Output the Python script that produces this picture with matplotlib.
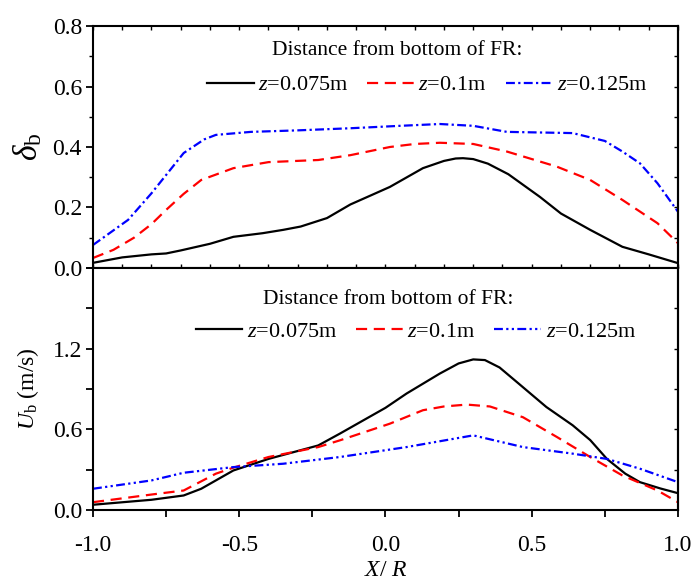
import numpy as np
import matplotlib.pyplot as plt
from matplotlib.ticker import MultipleLocator

plt.rcParams['font.family'] = ['Liberation Serif', 'DejaVu Serif']
plt.rcParams['mathtext.fontset'] = 'custom'
plt.rcParams['mathtext.rm'] = 'Liberation Serif'
plt.rcParams['mathtext.it'] = 'Liberation Serif:italic'

# delta_b (top panel)
x_d1 = [-1.0, -0.9, -0.8, -0.75, -0.7, -0.6, -0.52, -0.42, -0.35, -0.29, -0.2, -0.12, -0.05,
        0.015, 0.128, 0.2, 0.24, 0.265, 0.3, 0.35, 0.42, 0.528, 0.6, 0.7, 0.81, 0.9, 1.0]
d1 = [0.017, 0.035, 0.045, 0.048, 0.058, 0.08, 0.103, 0.115, 0.126, 0.137, 0.165, 0.21, 0.24,
      0.268, 0.33, 0.354, 0.362, 0.363, 0.36, 0.345, 0.31, 0.235, 0.18, 0.126, 0.07, 0.045, 0.016]
x_d2 = [-1.0, -0.93, -0.86, -0.8, -0.75, -0.69, -0.63, -0.52, -0.4, -0.23, -0.12, 0.015, 0.1,
        0.186, 0.3, 0.415, 0.586, 0.7, 0.81, 0.93, 1.0]
d2 = [0.033, 0.06, 0.1, 0.145, 0.192, 0.245, 0.291, 0.33, 0.35, 0.357, 0.373, 0.4, 0.41,
      0.414, 0.41, 0.385, 0.335, 0.291, 0.225, 0.148, 0.082]
x_d3 = [-1.0, -0.88, -0.8, -0.69, -0.62, -0.58, -0.46, -0.3, -0.12, 0.05, 0.186, 0.3, 0.415,
        0.64, 0.75, 0.81, 0.87, 0.93, 1.0]
d3 = [0.076, 0.159, 0.247, 0.38, 0.425, 0.44, 0.45, 0.455, 0.462, 0.47, 0.476, 0.47, 0.45,
      0.446, 0.42, 0.385, 0.346, 0.28, 0.186]

# U_b (bottom panel)
x_u1 = [-1.0, -0.8, -0.69, -0.63, -0.52, -0.4, -0.23, -0.156, 0.0, 0.072, 0.186, 0.25, 0.3,
        0.34, 0.39, 0.45, 0.55, 0.64, 0.7, 0.757, 0.82, 0.87, 0.94, 1.0]
u1 = [0.039, 0.076, 0.108, 0.158, 0.294, 0.38, 0.48, 0.568, 0.76, 0.866, 1.015, 1.09, 1.12,
      1.115, 1.06, 0.95, 0.766, 0.63, 0.52, 0.38, 0.27, 0.207, 0.16, 0.125]
x_u2 = [-1.0, -0.8, -0.69, -0.58, -0.52, -0.4, -0.23, -0.156, 0.015, 0.128, 0.2, 0.278, 0.357,
        0.47, 0.586, 0.7, 0.81, 0.93, 1.0]
u2 = [0.058, 0.115, 0.145, 0.27, 0.315, 0.394, 0.468, 0.518, 0.642, 0.742, 0.77, 0.784, 0.77,
      0.69, 0.543, 0.394, 0.257, 0.145, 0.058]
x_u3 = [-1.0, -0.8, -0.69, -0.52, -0.35, -0.156, 0.072, 0.3, 0.47, 0.64, 0.757, 0.87, 1.0]
u3 = [0.158, 0.22, 0.277, 0.319, 0.344, 0.394, 0.468, 0.555, 0.468, 0.419, 0.38, 0.307, 0.207]

labels = ['$z$=0.075m', '$z$=0.1m', '$z$=0.125m']
legend_title = 'Distance from bottom of FR:'

fig = plt.figure(figsize=(6.95, 5.86), dpi=100)
ax1 = fig.add_axes([0.1338, 0.5427, 0.8417, 0.4129])
ax2 = fig.add_axes([0.1338, 0.1297, 0.8417, 0.4130])

lw = 1.6
styles = [dict(color='black', linestyle='-'),
          dict(color='red', linestyle=(0, (5, 3))),
          dict(color='blue', linestyle=(0, (4, 1.5, 1, 1.5)))]
styles_b = [styles[0], styles[1],
            dict(color='blue', linestyle=(0, (4, 1.5, 1, 1.5, 1, 1.5)))]

h1 = []
for xs, ys, st, lab in zip([x_d1, x_d2, x_d3], [d1, d2, d3], styles, labels):
    h1 += ax1.plot(xs, ys, lw=lw, label=lab, **st)
h2 = []
for xs, ys, st, lab in zip([x_u1, x_u2, x_u3], [u1, u2, u3], styles_b, labels):
    h2 += ax2.plot(xs, ys, lw=lw, label=lab, **st)

for ax in (ax1, ax2):
    ax.set_xlim(-1.0, 1.0)
    for s in ax.spines.values():
        s.set_linewidth(1.5)

ax1.set_ylim(0, 0.8)
ax2.set_ylim(0, 1.8)

# top panel ticks
ax1.set_yticks([0, 0.2, 0.4, 0.6, 0.8])
ax1.set_yticklabels(['0.0', '0.2', '0.4', '0.6', '0.8'])
ax1.yaxis.set_minor_locator(MultipleLocator(0.1))
ax1.xaxis.set_major_locator(MultipleLocator(0.5))
ax1.xaxis.set_minor_locator(MultipleLocator(0.1))
ax1.tick_params(axis='y', which='major', direction='out', length=5, width=1.3, labelsize=17, pad=3)
ax1.tick_params(axis='y', which='minor', direction='out', length=3, width=1.0)
ax1.tick_params(axis='x', which='both', direction='in', length=3, width=1.0, top=True, labelbottom=False)
r1 = ax1.secondary_yaxis('right')
r1.set_yticks(np.arange(0.1, 0.8, 0.1))
r1.tick_params(direction='in', length=3, width=1.0, labelright=False)
r1.spines['right'].set_linewidth(1.5)

# bottom panel ticks
ax2.set_yticks([0.0, 0.6, 1.2])
ax2.set_yticklabels(['0.0', '0.6', '1.2'])
ax2.yaxis.set_minor_locator(MultipleLocator(0.3))
ax2.set_xticks([-1.0, -0.5, 0.0, 0.5, 1.0])
ax2.set_xticklabels(['-1.0', '-0.5', '0.0', '0.5', '1.0'])
ax2.xaxis.set_minor_locator(MultipleLocator(0.25))
ax2.tick_params(axis='both', which='major', direction='out', length=5, width=1.3, labelsize=17, pad=3)
ax2.tick_params(axis='both', which='minor', direction='out', length=5, width=1.3)
ax2.tick_params(axis='x', which='major', pad=13)
r2 = ax2.secondary_yaxis('right')
r2.set_yticks([0.3, 0.6, 0.9, 1.2, 1.5])
r2.tick_params(direction='in', length=3, width=1.0, labelright=False)
r2.spines['right'].set_linewidth(1.5)

ax1.set_ylabel(r'$\delta_{\mathrm{b}}$', fontsize=24, labelpad=6)
ax2.set_ylabel(r'$U_{\mathrm{b}}$ (m/s)', fontsize=17, labelpad=8)
ax2.set_xlabel(r'$X$/ $R$', fontsize=17, labelpad=3)

# legends
leg_kw = dict(loc='center', ncol=3, frameon=False, fontsize=16, handlelength=2.1,
              handletextpad=0.2, columnspacing=0.85)
ax1.text(0.52, 0.90, legend_title, transform=ax1.transAxes, ha='center', va='center', fontsize=15.5)
ax1.legend(handles=h1, bbox_to_anchor=(0.571, 0.756), **leg_kw)
ax2.text(0.504, 0.868, legend_title, transform=ax2.transAxes, ha='center', va='center', fontsize=15.5)
ax2.legend(handles=h2, bbox_to_anchor=(0.552, 0.736), **leg_kw)

fig.savefig('out.png', dpi=100)
